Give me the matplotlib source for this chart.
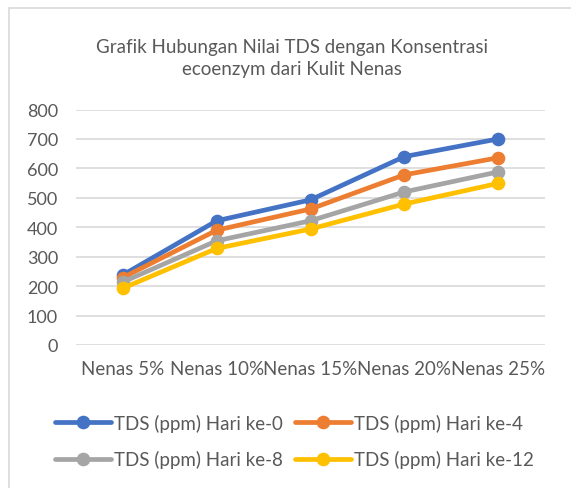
import matplotlib
matplotlib.use("Agg")
import matplotlib.pyplot as plt
from matplotlib.patches import Rectangle

# data
categories = ["Nenas 5%", "Nenas 10%", "Nenas 15%", "Nenas 20%", "Nenas 25%"]
series_names = ["TDS (ppm) Hari ke-0", "TDS (ppm) Hari ke-4",
                "TDS (ppm) Hari ke-8", "TDS (ppm) Hari ke-12"]
hari_0 = [238, 422, 493, 640, 700]
hari_4 = [229, 390, 462, 578, 636]
hari_8 = [214, 354, 422, 520, 588]
hari_12 = [193, 328, 394, 479, 549]
colors = ["#4472C4", "#ED7D31", "#A5A5A5", "#FFC000"]

TEXT = "#595959"
W, H, DPI = 571, 489, 100

plt.rcParams["font.family"] = ["Lato", "DejaVu Sans"]

fig = plt.figure(figsize=(W / DPI, H / DPI), dpi=DPI)
fig.patch.set_facecolor("white")

# * chart border (only top/left edges visible in the crop)
fig.add_artist(Rectangle((8.5 / W, -0.1), 1.2, 1 - 8.5 / H + 0.1,
                         transform=fig.transFigure, fill=False,
                         edgecolor="#D9D9D9", linewidth=1.2))

ax = fig.add_axes([76 / W, 1 - 346 / H, (545 - 76) / W, (346 - 110.5) / H])

x = list(range(len(categories)))
lines = []
for vals, name, c in zip([hari_0, hari_4, hari_8, hari_12], series_names, colors):
    ln, = ax.plot(x, vals, color=c, lw=3.4, marker="o", markersize=8.8,
                  label=name, solid_capstyle="round", zorder=3)
    lines.append(ln)

ax.set_xlim(-0.5, len(categories) - 0.5)
ax.set_ylim(0, 800)
ax.set_yticks(range(0, 801, 100))
ax.set_xticks(x)
ax.set_xticklabels(categories)
ax.grid(axis="y", color="#D9D9D9", lw=1.2)
ax.set_axisbelow(True)
for s in ax.spines.values():
    s.set_visible(False)
ax.tick_params(axis="y", length=0, pad=13, labelsize=13, labelcolor=TEXT)
ax.tick_params(axis="x", length=0, pad=11, labelsize=13.5, labelcolor=TEXT)

fig.text(292 / W, 1 - 58.5 / H, "Grafik Hubungan Nilai TDS dengan Konsentrasi\necoenzym dari Kulit Nenas",
         ha="center", va="center", fontsize=13.5, color=TEXT, linespacing=1.4)

# * legend is filled row by row in the reference
order = [0, 2, 1, 3]
fig.legend([lines[i] for i in order], [series_names[i] for i in order],
           loc="center left", bbox_to_anchor=(55 / W, 1 - 442 / H), ncol=2,
           frameon=False, fontsize=13.5, labelcolor=TEXT,
           handlelength=3.0, handletextpad=0.15, columnspacing=0.65,
           labelspacing=1.0, borderpad=0, borderaxespad=0)

fig.savefig("out.png", dpi=DPI)
